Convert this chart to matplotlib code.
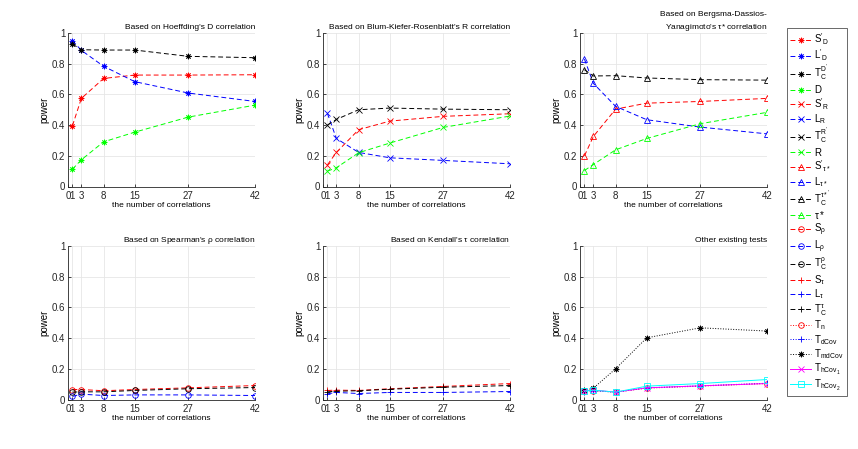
import numpy as np
import matplotlib
matplotlib.use("Agg")
import matplotlib.pyplot as plt
from matplotlib.lines import Line2D

plt.rcParams['font.family'] = ['Liberation Sans', 'DejaVu Sans']
plt.rcParams['mathtext.fontset'] = 'custom'
plt.rcParams['mathtext.rm'] = 'Liberation Sans'
plt.rcParams['mathtext.it'] = 'Liberation Sans'
plt.rcParams['mathtext.default'] = 'regular'

# number of correlations
n_corr = [1, 3, 8, 15, 27, 42]
xticks = [0, 1, 3, 8, 15, 27, 42]

# Hoeffding's D
hoef_S = [0.396, 0.574, 0.704, 0.726, 0.726, 0.728]
hoef_L = [0.950, 0.887, 0.783, 0.683, 0.609, 0.554]
hoef_T = [0.928, 0.891, 0.889, 0.889, 0.848, 0.839]
hoef_D = [0.113, 0.174, 0.291, 0.354, 0.452, 0.530]

# Blum-Kiefer-Rosenblatt's R
bkr_S = [0.141, 0.222, 0.370, 0.426, 0.457, 0.474]
bkr_L = [0.476, 0.313, 0.222, 0.187, 0.170, 0.148]
bkr_T = [0.400, 0.437, 0.500, 0.511, 0.504, 0.500]
bkr_R = [0.100, 0.122, 0.220, 0.283, 0.385, 0.459]

# Bergsma-Dassios-Yanagimoto's tau*
bdy_S = [0.200, 0.326, 0.504, 0.543, 0.554, 0.574]
bdy_L = [0.830, 0.672, 0.522, 0.435, 0.387, 0.343]
bdy_T = [0.761, 0.720, 0.722, 0.707, 0.696, 0.693]
bdy_tau = [0.104, 0.143, 0.239, 0.313, 0.409, 0.483]

# Spearman's rho
spr_S = [0.065, 0.065, 0.057, 0.065, 0.076, 0.091]
spr_L = [0.020, 0.035, 0.026, 0.030, 0.030, 0.026]
spr_T = [0.048, 0.050, 0.050, 0.059, 0.070, 0.078]

# Kendall's tau
ken_S = [0.059, 0.061, 0.059, 0.070, 0.085, 0.104]
ken_L = [0.037, 0.046, 0.039, 0.046, 0.046, 0.052]
ken_T = [0.050, 0.054, 0.057, 0.067, 0.080, 0.091]

# other existing tests
oth_Tn = [0.057, 0.057, 0.048, 0.074, 0.087, 0.104]
oth_dCov = [0.052, 0.057, 0.048, 0.076, 0.089, 0.106]
oth_mdCov = [0.059, 0.074, 0.200, 0.402, 0.467, 0.446]
oth_hCov1 = [0.057, 0.061, 0.048, 0.076, 0.089, 0.104]
oth_hCov2 = [0.054, 0.061, 0.048, 0.087, 0.104, 0.130]

RED, BLUE, BLACK, GREEN = (1, 0, 0), (0, 0, 1), (0, 0, 0), (0, 1, 0)
MAGENTA, CYAN = (1, 0, 1), (0, 1, 1)
ASTER = (8, 2, 0)
DASH = (0, (5, 3))
MS = 4
MEW = 0.6

fig = plt.figure(figsize=(8.58, 4.49), dpi=100)

W, H = 8.58 * 100, 4.49 * 100
lefts = [68, 323, 580]
tops = [33, 246]
aw, ah = 187, 153.5

axes = []
for r in range(2):
    for c in range(3):
        ax = fig.add_axes([lefts[c] / W, 1 - (tops[r] + ah) / H, aw / W, ah / H])
        axes.append(ax)

titles = ["Based on Hoeffding's D correlation",
          "Based on Blum-Kiefer-Rosenblatt's R correlation",
          "Based on Bergsma-Dassios-\nYanagimoto's $\\tau$* correlation",
          "Based on Spearman's $\\rho$ correlation",
          "Based on Kendall's $\\tau$ correlation",
          "Other existing tests"]


def style(color, marker, ls=DASH):
    return dict(color=color, linestyle=ls, linewidth=0.7, marker=marker,
                markersize=MS, markerfacecolor='none', markeredgewidth=MEW)


def line(ax, y, color, marker, ls=DASH):
    ax.plot(n_corr, y, **style(color, marker, ls))


ax = axes[0]
line(ax, hoef_S, RED, ASTER)
line(ax, hoef_L, BLUE, ASTER)
line(ax, hoef_T, BLACK, ASTER)
line(ax, hoef_D, GREEN, ASTER)

ax = axes[1]
line(ax, bkr_S, RED, 'x')
line(ax, bkr_L, BLUE, 'x')
line(ax, bkr_T, BLACK, 'x')
line(ax, bkr_R, GREEN, 'x')

ax = axes[2]
line(ax, bdy_S, RED, '^')
line(ax, bdy_L, BLUE, '^')
line(ax, bdy_T, BLACK, '^')
line(ax, bdy_tau, GREEN, '^')

ax = axes[3]
line(ax, spr_S, RED, 'o')
line(ax, spr_L, BLUE, 'o')
line(ax, spr_T, BLACK, 'o')

ax = axes[4]
line(ax, ken_S, RED, '+')
line(ax, ken_L, BLUE, '+')
line(ax, ken_T, BLACK, '+')

ax = axes[5]
line(ax, oth_Tn, RED, 'o', ls=':')
line(ax, oth_dCov, BLUE, '+', ls=':')
line(ax, oth_mdCov, BLACK, ASTER, ls=':')
line(ax, oth_hCov1, MAGENTA, 'x', ls='-')
line(ax, oth_hCov2, CYAN, 's', ls='-')

for i, ax in enumerate(axes):
    ax.set_xlim(0, 42)
    ax.set_ylim(0, 1)
    ax.set_xticks(xticks)
    ax.set_xticklabels(['0', '1', '3', '8', '15', '27', '42'])
    ax.set_yticks([0, 0.2, 0.4, 0.6, 0.8, 1])
    ax.set_yticklabels(['0', '0.2', '0.4', '0.6', '0.8', '1'])
    ax.grid(True, color=(0.9, 0.9, 0.9), linewidth=0.6)
    ax.set_axisbelow(True)
    for s in ['top', 'right']:
        ax.spines[s].set_visible(False)
    for s in ['left', 'bottom']:
        ax.spines[s].set_color((0.15, 0.15, 0.15))
        ax.spines[s].set_linewidth(0.6)
    ax.tick_params(direction='in', length=2, width=0.6, labelsize=7,
                   colors=(0.15, 0.15, 0.15), pad=2)
    ax.tick_params(axis='x', pad=3)
    ax.set_ylabel('power', fontsize=7, labelpad=2)
    ax.set_xlabel('the number of correlations', fontsize=6, labelpad=1)
    ax.set_title(titles[i], loc='right', fontsize=6, pad=3, linespacing=1.6)

handles = [
    Line2D([], [], **style(RED, ASTER)),
    Line2D([], [], **style(BLUE, ASTER)),
    Line2D([], [], **style(BLACK, ASTER)),
    Line2D([], [], **style(GREEN, ASTER)),
    Line2D([], [], **style(RED, 'x')),
    Line2D([], [], **style(BLUE, 'x')),
    Line2D([], [], **style(BLACK, 'x')),
    Line2D([], [], **style(GREEN, 'x')),
    Line2D([], [], **style(RED, '^')),
    Line2D([], [], **style(BLUE, '^')),
    Line2D([], [], **style(BLACK, '^')),
    Line2D([], [], **style(GREEN, '^')),
    Line2D([], [], **style(RED, 'o')),
    Line2D([], [], **style(BLUE, 'o')),
    Line2D([], [], **style(BLACK, 'o')),
    Line2D([], [], **style(RED, '+')),
    Line2D([], [], **style(BLUE, '+')),
    Line2D([], [], **style(BLACK, '+')),
    Line2D([], [], **style(RED, 'o', ':')),
    Line2D([], [], **style(BLUE, '+', ':')),
    Line2D([], [], **style(BLACK, ASTER, ':')),
    Line2D([], [], **style(MAGENTA, 'x', '-')),
    Line2D([], [], **style(CYAN, 's', '-')),
]
labels = [r"$S'_D$", r"$L'_D$", r"$T_C^{D'}$", r"$D$",
          r"$S'_R$", r"$L_R$", r"$T_C^{R'}$", r"$R$",
          r"$S'_{\tau*}$", r"$L_{\tau*}$", r"$T_C^{\tau*'}$", r"$\tau*$",
          r"$S_\rho$", r"$L_\rho$", r"$T_C^\rho$",
          r"$S_\tau$", r"$L_\tau$", r"$T_C^\tau$",
          r"$T_n$", r"$T_{dCov}$", r"$T_{mdCov}$",
          r"$T_{hCov_1}$", r"$T_{hCov_2}$"]

leg = fig.legend(handles, labels, loc='upper left',
                 bbox_to_anchor=(787 / W, 1 - 28 / H), fontsize=7,
                 frameon=True, fancybox=False, handlelength=2.1,
                 handletextpad=0.3, labelspacing=0.08, borderpad=0.35,
                 borderaxespad=0)
leg.get_frame().set_edgecolor((0.15, 0.15, 0.15))
leg.get_frame().set_linewidth(0.6)

fig.savefig('out.png', dpi=100)
